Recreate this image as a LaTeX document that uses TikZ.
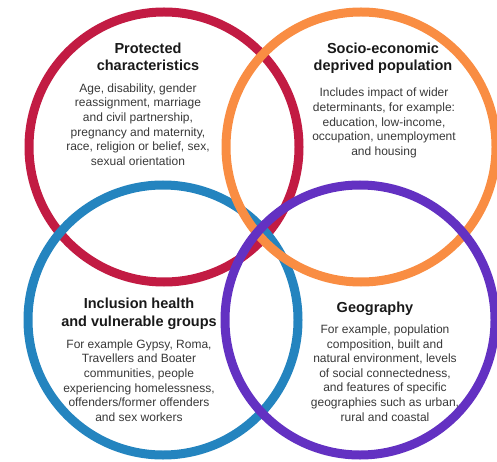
\documentclass[tikz,border=0pt]{standalone}
\usepackage{fontspec}
\setmainfont{Liberation Sans}
\definecolor{ringred}{HTML}{C21B43}
\definecolor{ringorange}{HTML}{F98D43}
\definecolor{ringblue}{HTML}{2484BF}
\definecolor{ringpurple}{HTML}{6331C2}
\begin{document}
\begin{tikzpicture}[
    x=1pt, y=-1pt,
    ring/.style={circle, draw, line width=9pt, minimum size=270pt, inner sep=0pt},
    head/.style={align=center, inner sep=0pt, text=black!90, font=\bfseries\fontsize{14.5}{17.5}\selectfont},
    body/.style={align=center, inner sep=0pt, text=black!78, font=\fontsize{12}{14.6}\selectfont}
]
\useasboundingbox (0,0) rectangle (497,462);

% The four rings
\node[ring, draw=ringred] (protected) at (164,147) {};
\node[ring, draw=ringblue] (inclusion) at (163,320) {};
\node[ring, draw=ringorange] (socio) at (361,147) {};
\node[ring, draw=ringpurple] (geography) at (360,320) {};

% Top left
\node[head] (protected-head) at (148,57) {Protected\\characteristics};
\node[body] (protected-body) at (138,124.5) {Age, disability, gender\\reassignment, marriage\\and civil partnership,\\pregnancy and maternity,\\race, religion or belief, sex,\\sexual orientation};

% Top right
\node[head] (socio-head) at (383,58.5) {Socio-economic\\deprived population};
\node[body] (socio-body) at (384,123) {Includes  impact of wider\\determinants, for example:\\education, low-income,\\occupation, unemployment\\and housing};

% Bottom left
\node[head] (inclusion-head) at (139,314) {Inclusion health\\and vulnerable groups};
\node[body] (inclusion-body) at (139,380.5) {For example Gypsy, Roma,\\Travellers and Boater\\communities, people\\experiencing homelessness,\\offenders/former offenders\\and sex workers};

% Bottom right
\node[head] (geography-head) at (375,309) {Geography};
\node[body] (geography-body) at (385,373) {For example, population\\composition, built and\\natural environment, levels\\of social connectedness,\\and features of specific\\geographies such as urban,\\rural and coastal};

\end{tikzpicture}
\end{document}
